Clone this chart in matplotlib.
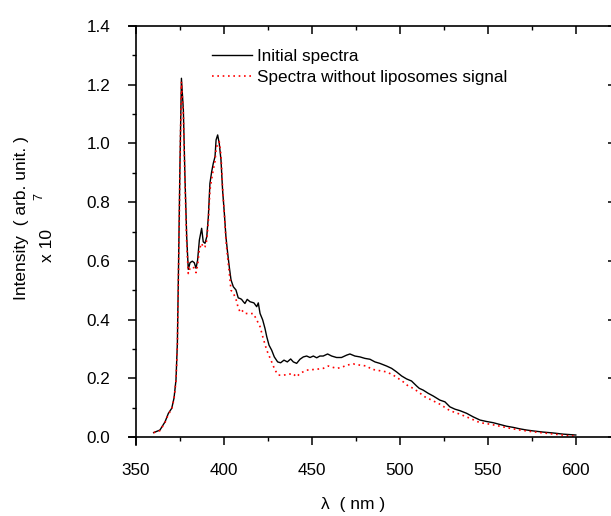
import matplotlib
matplotlib.use('Agg')
import matplotlib.pyplot as plt
from matplotlib.ticker import MultipleLocator, FormatStrFormatter

plt.rcParams['font.family'] = ['Liberation Sans', 'DejaVu Sans']

# wavelength (nm) and intensity (x 10^7)
wl_init = [360, 363.6, 366.5, 368.4, 370.3, 371.6, 372.7, 373.5, 374.2, 375.0,
           375.8, 376.9, 377.8, 378.8, 379.7, 380.7, 382.0, 383.1, 384.1, 385.0,
           386.0, 387.3, 388.2, 389.2, 390.2, 391.1, 392.0, 393.0, 393.9, 394.9,
           395.5, 396.4, 397.3, 398.3, 399.2, 400.2, 401.1, 402.1, 403.0, 404.0,
           405.3, 406.8, 408.1, 409.1, 410.0, 411.0, 411.9, 413.2, 414.8, 417.0,
           418.6, 419.5, 420.5, 422.0, 423.3, 424.3, 425.6, 427.1, 428.6, 430.5,
           432.2, 434.1, 436.0, 437.9, 439.4, 441.3, 443.2, 445.1, 447.0, 448.9,
           450.8, 452.7, 454.5, 456.4, 458.9, 461.2, 464.0, 466.8, 469.7, 471.6,
           474.4, 477.3, 480.1, 483.0, 485.8, 488.6, 492.4, 495.3, 498.1, 501.0,
           503.8, 506.6, 509.5, 511.0, 513.2, 516.1, 518.9, 522.7, 525.6, 528.4,
           531.3, 534.1, 537.9, 541.6, 545.5, 549.3, 553.0, 556.8, 560.6, 564.4,
           568.2, 572.0, 575.7, 581.4, 587.1, 592.8, 600.0]
int_init = [0.015, 0.024, 0.052, 0.081, 0.098, 0.133, 0.194, 0.32, 0.60, 0.94,
            1.222, 1.114, 0.887, 0.682, 0.571, 0.594, 0.599, 0.594, 0.575, 0.603,
            0.671, 0.711, 0.665, 0.66, 0.682, 0.75, 0.864, 0.904, 0.932, 0.955,
            1.012, 1.029, 1.0, 0.943, 0.841, 0.762, 0.682, 0.626, 0.58, 0.535,
            0.512, 0.501, 0.474, 0.472, 0.469, 0.461, 0.455, 0.469, 0.461, 0.457,
            0.444, 0.457, 0.421, 0.399, 0.37, 0.342, 0.313, 0.296, 0.273, 0.256,
            0.253, 0.262, 0.256, 0.266, 0.256, 0.251, 0.265, 0.273, 0.276, 0.271,
            0.276, 0.27, 0.276, 0.276, 0.283, 0.276, 0.271, 0.271, 0.279, 0.283,
            0.276, 0.273, 0.268, 0.265, 0.256, 0.251, 0.242, 0.234, 0.222, 0.208,
            0.198, 0.191, 0.174, 0.166, 0.16, 0.149, 0.14, 0.126, 0.12, 0.103,
            0.095, 0.09, 0.081, 0.069, 0.058, 0.053, 0.049, 0.043, 0.037, 0.033,
            0.028, 0.024, 0.021, 0.017, 0.014, 0.010, 0.007]

wl_corr = [360, 363.6, 366.5, 368.4, 370.3, 371.6, 372.7, 373.5, 374.2, 375.0,
           375.8, 376.9, 377.8, 378.8, 379.7, 380.7, 382.0, 383.1, 384.1, 385.0,
           386.0, 387.3, 388.2, 389.2, 390.2, 391.1, 392.0, 393.0, 393.9, 394.9,
           395.5, 396.4, 397.3, 398.3, 399.2, 400.2, 401.1, 402.1, 403.0, 404.0,
           405.3, 406.8, 408.1, 409.1, 410.0, 411.9, 412.9, 414.8, 416.6, 418.2,
           420.5, 422.3, 424.3, 427.1, 429.0, 430.9, 433.7, 436.5, 439.0, 441.3,
           443.2, 447.0, 452.7, 456.4, 459.3, 464.0, 466.8, 469.7, 473.5, 477.3,
           481.1, 483.9, 488.6, 492.4, 496.2, 499.0, 501.9, 504.7, 507.6, 510.4,
           514.2, 518.0, 522.7, 528.4, 534.1, 539.8, 545.5, 551.1, 556.8, 562.5,
           568.2, 575.7, 583.3, 590.9, 596.6, 600.0]
int_corr = [0.015, 0.022, 0.05, 0.078, 0.095, 0.13, 0.19, 0.31, 0.59, 0.93,
            1.21, 1.10, 0.87, 0.66, 0.557, 0.575, 0.58, 0.575, 0.56, 0.585,
            0.64, 0.66, 0.645, 0.648, 0.67, 0.735, 0.84, 0.88, 0.91, 0.94,
            0.98, 1.0, 1.006, 0.96, 0.85, 0.76, 0.67, 0.61, 0.56, 0.50,
            0.49, 0.47, 0.44, 0.427, 0.433, 0.42, 0.421, 0.42, 0.421, 0.404,
            0.376, 0.336, 0.296, 0.256, 0.228, 0.211, 0.211, 0.213, 0.217, 0.205,
            0.217, 0.228, 0.231, 0.234, 0.242, 0.234, 0.237, 0.245, 0.249, 0.245,
            0.242, 0.231, 0.226, 0.222, 0.211, 0.2, 0.188, 0.174, 0.166, 0.154,
            0.137, 0.126, 0.112, 0.09, 0.078, 0.064, 0.049, 0.044, 0.037, 0.03,
            0.024, 0.018, 0.013, 0.008, 0.004, 0.004]

fig = plt.figure(figsize=(6.11, 5.16), dpi=100)
ax = fig.add_axes([129/611, 71/516, 482/611, 419/516])

ax.plot(wl_init, int_init, color='black', lw=1.0, label='Initial spectra')
ax.plot(wl_corr, int_corr, color='red', lw=1.2, linestyle=(0, (1, 2.2)),
        label='Spectra without liposomes signal')

ax.set_xlim(346, 620)
ax.set_ylim(-0.027, 1.4)

ax.spines['left'].set_position(('data', 350))
ax.spines['bottom'].set_position(('data', 0))
ax.spines['top'].set_visible(False)
ax.spines['right'].set_visible(False)
for s in ['left', 'bottom']:
    ax.spines[s].set_linewidth(1.2)

ax.xaxis.set_major_locator(MultipleLocator(50))
ax.xaxis.set_minor_locator(MultipleLocator(25))
ax.yaxis.set_major_locator(MultipleLocator(0.2))
ax.yaxis.set_minor_locator(MultipleLocator(0.1))
ax.yaxis.set_major_formatter(FormatStrFormatter('%.1f'))
ax.set_xticks(range(350, 601, 50))
ax.tick_params(which='major', direction='out', length=5.5, width=1.1,
               labelsize=12.3, pad=13)
ax.tick_params(which='minor', direction='out', length=3, width=1.0)

top = ax.secondary_xaxis('top')
top.xaxis.set_major_locator(MultipleLocator(50))
top.xaxis.set_minor_locator(MultipleLocator(25))
top.tick_params(which='major', direction='in', length=5.5, width=1.1, labeltop=False)
top.tick_params(which='minor', direction='in', length=3, width=1.0)
top.spines['top'].set_linewidth(1.2)

right = ax.secondary_yaxis('right')
right.yaxis.set_major_locator(MultipleLocator(0.2))
right.tick_params(which='major', direction='in', length=2.5, width=1.1, labelright=False)
right.tick_params(which='minor', length=0)
right.spines['right'].set_visible(False)

ax.legend(loc='upper left', bbox_to_anchor=(0.155, 0.965), frameon=False,
          fontsize=12.3, handlelength=2.3, handletextpad=0.3, labelspacing=0.35,
          borderpad=0)

fig.text(353 / 611, 1 - 505 / 516, 'λ  ( nm )', ha='center', va='center', fontsize=12.5)
fig.text(22 / 611, 1 - 218 / 516, 'Intensity  ( arb. unit. )', rotation=90,
         ha='center', va='center', fontsize=12.5)
fig.text(48 / 611, 1 - 245 / 516, 'x 10', rotation=90,
         ha='center', va='center', fontsize=12.5)
fig.text(39 / 611, 1 - 197 / 516, '7', rotation=90,
         ha='center', va='center', fontsize=9)

fig.savefig('out.png', dpi=100)
